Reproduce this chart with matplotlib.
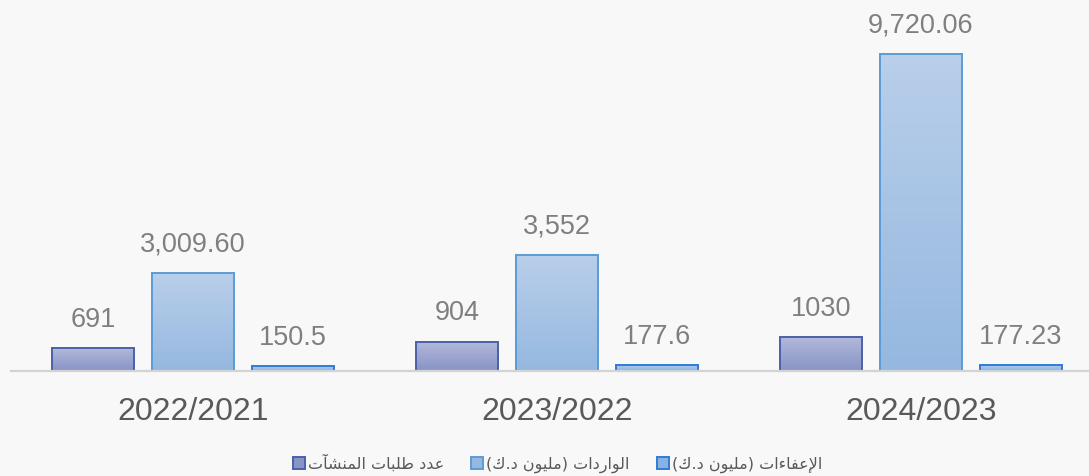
import numpy as np
import matplotlib
matplotlib.use("Agg")
import matplotlib.pyplot as plt
import matplotlib.patches as mpatches
from matplotlib.colors import LinearSegmentedColormap

# ── Data ──────────────────────────────────────────────────────────────────────
YEARS = ["2022/2021", "2023/2022", "2024/2023"]
REQUESTS = [691, 904, 1030]                    # عدد طلبات المنشآت
IMPORTS = [3009.60, 3552, 9720.06]             # الواردات (مليون د.ك)
EXEMPTIONS = [150.5, 177.6, 177.23]            # الإعفاءات (مليون د.ك)
LABELS_REQ = ["691", "904", "1030"]
LABELS_IMP = ["3,009.60", "3,552", "9,720.06"]
LABELS_EXM = ["150.5", "177.6", "177.23"]
SERIES_NAMES = ["عدد طلبات المنشآت", "الواردات (مليون د.ك)", "الإعفاءات (مليون د.ك)"]

# ── Minimal Arabic shaping (matplotlib has no bidi / joining support) ─────────
AR_FORMS = {
    "ء": ("\uFE80", None, None, None),
    "آ": ("\uFE81", "\uFE82", None, None),
    "إ": ("\uFE87", "\uFE88", None, None),
    "ا": ("\uFE8D", "\uFE8E", None, None),
    "ب": ("\uFE8F", "\uFE90", "\uFE91", "\uFE92"),
    "ت": ("\uFE95", "\uFE96", "\uFE97", "\uFE98"),
    "د": ("\uFEA9", "\uFEAA", None, None),
    "ر": ("\uFEAD", "\uFEAE", None, None),
    "ش": ("\uFEB5", "\uFEB6", "\uFEB7", "\uFEB8"),
    "ط": ("\uFEC1", "\uFEC2", "\uFEC3", "\uFEC4"),
    "ع": ("\uFEC9", "\uFECA", "\uFECB", "\uFECC"),
    "ف": ("\uFED1", "\uFED2", "\uFED3", "\uFED4"),
    "ك": ("\uFED9", "\uFEDA", "\uFEDB", "\uFEDC"),
    "ل": ("\uFEDD", "\uFEDE", "\uFEDF", "\uFEE0"),
    "م": ("\uFEE1", "\uFEE2", "\uFEE3", "\uFEE4"),
    "ن": ("\uFEE5", "\uFEE6", "\uFEE7", "\uFEE8"),
    "و": ("\uFEED", "\uFEEE", None, None),
    "ي": ("\uFEF1", "\uFEF2", "\uFEF3", "\uFEF4"),
    "لا": ("\uFEFB", "\uFEFC", None, None),
    "لآ": ("\uFEF5", "\uFEF6", None, None),
    "لأ": ("\uFEF7", "\uFEF8", None, None),
    "لإ": ("\uFEF9", "\uFEFA", None, None),
}


def shape_ar(s):
    toks, i = [], 0
    while i < len(s):
        if s[i] == "ل" and s[i:i + 2] in AR_FORMS and len(s[i:i + 2]) == 2:
            toks.append(s[i:i + 2]); i += 2
        else:
            toks.append(s[i]); i += 1
    out = []
    for k, t in enumerate(toks):
        f = AR_FORMS.get(t)
        if f is None:
            out.append(t)
            continue
        prev = AR_FORMS.get(toks[k - 1]) if k > 0 else None
        nxt = AR_FORMS.get(toks[k + 1]) if k + 1 < len(toks) else None
        jp = prev is not None and prev[2] is not None
        jn = f[2] is not None and nxt is not None and nxt[1] is not None
        if jp and jn:
            g = f[3]
        elif jp:
            g = f[1] or f[0]
        elif jn:
            g = f[2]
        else:
            g = f[0]
        out.append(g)
    vis = "".join(reversed(out))
    return vis.translate(str.maketrans("()", ")("))


# ── Style ─────────────────────────────────────────────────────────────────────
BG = "#F8F8F8"
STYLES = [
    # (top colour, bottom colour, edge)
    ("#B2B9DA", "#8893C6", "#4A60A8"),
    ("#B9CFEA", "#95B8E0", "#5B9BD5"),
    ("#AECBEE", "#86B2E6", "#2F7BD6"),
]

fig = plt.figure(figsize=(10.89, 4.76), dpi=100, facecolor=BG)
ax = fig.add_axes([11 / 1089, 105 / 476, 1078 / 1089, 371 / 476])
ax.set_facecolor("none")

x = np.arange(len(YEARS))
off = 100 / 364
width = 82 / 364

grad = np.linspace(0, 1, 256).reshape(-1, 1)
series = [(REQUESTS, LABELS_REQ), (IMPORTS, LABELS_IMP), (EXEMPTIONS, LABELS_EXM)]
for j, ((vals, labs), (top, bot, edge)) in enumerate(zip(series, STYLES)):
    bars = ax.bar(x + (j - 1) * off, vals, width=width, facecolor="none",
                  edgecolor=edge, linewidth=1.4, zorder=4)
    cmap = LinearSegmentedColormap.from_list(f"g{j}", [top, bot])
    for rect in bars:
        x0, w, h = rect.get_x(), rect.get_width(), rect.get_height()
        im = ax.imshow(grad, cmap=cmap, extent=(x0, x0 + w, 0, h),
                       aspect="auto", origin="upper", zorder=3)
        im.set_clip_path(rect)
    for rect, lab in zip(bars, labs):
        ax.annotate(lab, (rect.get_x() + rect.get_width() / 2, rect.get_height()),
                    xytext=(0, 11), textcoords="offset points",
                    ha="center", va="bottom", fontsize=19.5,
                    family="Liberation Sans", color="#7F7F7F")

ax.set_xlim(-0.5, -0.5 + 1078 / 364)
ax.set_ylim(0, 11376)

for s in ["top", "right", "left"]:
    ax.spines[s].set_visible(False)
ax.spines["bottom"].set_color("#D3D3D3")
ax.spines["bottom"].set_linewidth(1.6)
ax.spines["bottom"].set_zorder(5)
ax.set_yticks([])
ax.set_xticks(x)
ax.set_xticklabels(YEARS, fontsize=23, family="Liberation Sans", color="#595959")
ax.tick_params(axis="x", length=0, pad=19)

handles = [mpatches.Patch(facecolor=bot, edgecolor=edge, linewidth=1.4)
           for (top, bot, edge) in STYLES]
fig.legend(handles, [shape_ar(n) for n in SERIES_NAMES], loc="center",
           bbox_to_anchor=(0.512, 0.026), ncol=3, frameon=False,
           handlelength=0.75, handleheight=0.75, handletextpad=0.2,
           columnspacing=1.7, prop={"family": "DejaVu Sans", "size": 11.5},
           labelcolor="#595959")

fig.savefig("out.png", dpi=100, facecolor=BG)
plt.close(fig)
